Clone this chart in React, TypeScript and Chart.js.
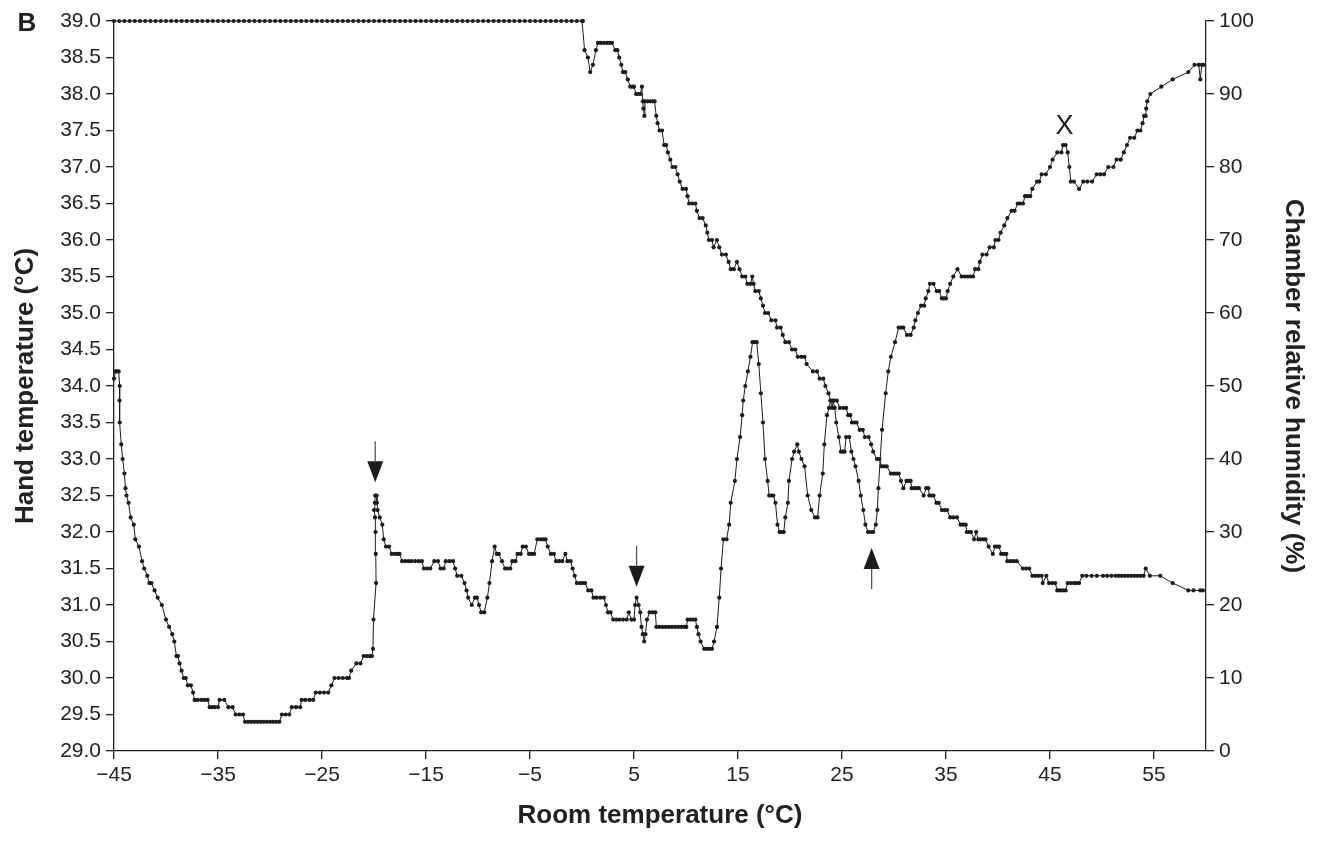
import React, { useEffect, useRef } from 'react';
import { Chart, registerables } from 'chart.js';

Chart.register(...registerables);

// ---------- data ----------
// Hand temperature (°C) vs room temperature (°C), left axis
const handTemperature: [number, number][] = [
  [-45.0, 34.1], [-44.85, 34.2], [-44.7, 34.2], [-44.55, 34.2], [-44.45, 34.0], [-44.47, 33.8],
  [-44.45, 33.5], [-44.3, 33.2], [-44.17, 33.0], [-44.0, 32.8], [-43.9, 32.6], [-43.8, 32.5],
  [-43.6, 32.4], [-43.4, 32.2], [-43.1, 32.1], [-42.95, 31.9], [-42.6, 31.8], [-42.3, 31.6],
  [-42.1, 31.5], [-41.8, 31.4], [-41.6, 31.3], [-41.4, 31.3], [-41.1, 31.2], [-40.8, 31.1],
  [-40.4, 31.0], [-40.0, 30.8], [-39.7, 30.7], [-39.4, 30.6], [-39.2, 30.5], [-39.0, 30.3],
  [-38.85, 30.3], [-38.7, 30.2], [-38.5, 30.1], [-38.3, 30.0], [-38.1, 30.0], [-37.9, 29.9],
  [-37.6, 29.9], [-37.4, 29.8], [-37.25, 29.7], [-36.95, 29.7], [-36.6, 29.7], [-36.3, 29.7],
  [-36.0, 29.7], [-35.8, 29.6], [-35.55, 29.6], [-35.3, 29.6], [-35.0, 29.6], [-34.85, 29.7],
  [-34.4, 29.7], [-34.0, 29.6], [-33.6, 29.6], [-33.3, 29.5], [-32.95, 29.5], [-32.6, 29.5],
  [-32.4, 29.4], [-32.1, 29.4], [-31.8, 29.4], [-31.5, 29.4], [-31.2, 29.4], [-30.9, 29.4],
  [-30.6, 29.4], [-30.3, 29.4], [-30.0, 29.4], [-29.7, 29.4], [-29.4, 29.4], [-29.1, 29.4],
  [-28.85, 29.5], [-28.5, 29.5], [-28.15, 29.5], [-27.9, 29.6], [-27.5, 29.6], [-27.1, 29.6],
  [-26.95, 29.7], [-26.6, 29.7], [-26.2, 29.7], [-25.85, 29.7], [-25.6, 29.8], [-25.2, 29.8],
  [-24.8, 29.8], [-24.4, 29.8], [-24.1, 29.9], [-23.8, 30.0], [-23.4, 30.0], [-23.0, 30.0],
  [-22.6, 30.0], [-22.4, 30.0], [-22.2, 30.1], [-21.7, 30.2], [-21.3, 30.2], [-21.0, 30.3],
  [-20.7, 30.3], [-20.4, 30.3], [-20.2, 30.3], [-20.1, 30.4], [-20.05, 30.8], [-19.8, 31.3],
  [-19.83, 31.7], [-19.85, 32.0], [-19.9, 32.2], [-20.0, 32.3], [-19.92, 32.4], [-19.88, 32.5],
  [-19.75, 32.5], [-19.72, 32.4], [-19.65, 32.3], [-19.45, 32.2], [-19.2, 32.1], [-19.07, 31.9],
  [-18.85, 31.8], [-18.55, 31.8], [-18.3, 31.7], [-18.0, 31.7], [-17.75, 31.7], [-17.55, 31.7],
  [-17.3, 31.6], [-17.0, 31.6], [-16.7, 31.6], [-16.4, 31.6], [-16.05, 31.6], [-15.7, 31.6],
  [-15.4, 31.6], [-15.2, 31.5], [-14.9, 31.5], [-14.6, 31.5], [-14.2, 31.6], [-13.85, 31.6],
  [-13.6, 31.5], [-13.3, 31.5], [-13.1, 31.6], [-12.75, 31.6], [-12.4, 31.6], [-12.2, 31.5],
  [-12.0, 31.4], [-11.6, 31.4], [-11.3, 31.3], [-11.1, 31.2], [-10.95, 31.1], [-10.6, 31.0],
  [-10.3, 31.1], [-10.1, 31.1], [-9.9, 31.0], [-9.7, 30.9], [-9.4, 30.9], [-9.1, 31.1],
  [-8.9, 31.3], [-8.65, 31.6], [-8.4, 31.8], [-8.2, 31.7], [-8.0, 31.7], [-7.7, 31.6],
  [-7.4, 31.5], [-7.15, 31.5], [-6.9, 31.5], [-6.7, 31.6], [-6.4, 31.6], [-6.2, 31.7],
  [-5.9, 31.7], [-5.7, 31.8], [-5.4, 31.8], [-5.1, 31.7], [-4.85, 31.7], [-4.6, 31.7],
  [-4.3, 31.9], [-4.0, 31.9], [-3.75, 31.9], [-3.5, 31.9], [-3.3, 31.8], [-3.0, 31.7],
  [-2.7, 31.7], [-2.5, 31.6], [-2.2, 31.6], [-1.9, 31.6], [-1.6, 31.7], [-1.4, 31.6],
  [-1.1, 31.6], [-0.9, 31.5], [-0.7, 31.4], [-0.5, 31.3], [-0.2, 31.3], [0.05, 31.3],
  [0.3, 31.3], [0.6, 31.2], [0.9, 31.2], [1.1, 31.1], [1.4, 31.1], [1.75, 31.1],
  [2.1, 31.1], [2.3, 31.0], [2.5, 30.9], [2.75, 30.9], [3.0, 30.8], [3.3, 30.8],
  [3.6, 30.8], [3.95, 30.8], [4.3, 30.8], [4.5, 30.9], [4.75, 30.8], [5.0, 30.8],
  [5.1, 31.0], [5.25, 31.1], [5.45, 31.0], [5.6, 30.9], [5.72, 30.7], [5.85, 30.6],
  [5.98, 30.5], [6.1, 30.6], [6.25, 30.8], [6.5, 30.9], [6.8, 30.9], [7.05, 30.9],
  [7.15, 30.7], [7.45, 30.7], [7.75, 30.7], [8.05, 30.7], [8.35, 30.7], [8.65, 30.7],
  [8.95, 30.7], [9.25, 30.7], [9.55, 30.7], [9.85, 30.7], [10.03, 30.7], [10.15, 30.8],
  [10.4, 30.8], [10.65, 30.8], [10.9, 30.8], [11.05, 30.7], [11.2, 30.6], [11.4, 30.5],
  [11.75, 30.4], [12.0, 30.4], [12.25, 30.4], [12.5, 30.4], [12.7, 30.5], [12.98, 30.7],
  [13.2, 31.1], [13.37, 31.5], [13.6, 31.9], [13.9, 31.9], [14.15, 32.1], [14.3, 32.4],
  [14.7, 32.7], [14.9, 33.0], [15.2, 33.3], [15.4, 33.6], [15.5, 33.8], [15.7, 34.0],
  [15.95, 34.2], [16.2, 34.4], [16.4, 34.6], [16.6, 34.6], [16.8, 34.6], [17.0, 34.3],
  [17.2, 33.9], [17.4, 33.5], [17.6, 33.0], [17.85, 32.7], [18.0, 32.5], [18.2, 32.5],
  [18.4, 32.5], [18.6, 32.4], [18.8, 32.1], [19.0, 32.0], [19.2, 32.0], [19.4, 32.0],
  [19.55, 32.2], [19.8, 32.4], [19.9, 32.7], [20.2, 33.0], [20.4, 33.1], [20.7, 33.2],
  [20.85, 33.1], [21.1, 33.0], [21.4, 32.9], [21.7, 32.5], [22.05, 32.3], [22.4, 32.2],
  [22.65, 32.2], [22.85, 32.5], [23.15, 32.8], [23.3, 33.2], [23.55, 33.6], [23.75, 33.7],
  [23.9, 33.8], [24.05, 33.7], [24.15, 33.8], [24.3, 33.7], [24.45, 33.5], [24.7, 33.3],
  [24.9, 33.1], [25.1, 33.1], [25.25, 33.1], [25.4, 33.3], [25.7, 33.3], [25.9, 33.1],
  [26.1, 33.0], [26.3, 32.9], [26.6, 32.7], [26.8, 32.5], [27.05, 32.3], [27.25, 32.1],
  [27.5, 32.0], [27.75, 32.0], [28.0, 32.0], [28.25, 32.1], [28.4, 32.3], [28.5, 32.6],
  [28.85, 33.4], [29.2, 33.9], [29.45, 34.2], [29.7, 34.4], [30.1, 34.6], [30.45, 34.8],
  [30.7, 34.8], [30.9, 34.8], [31.25, 34.7], [31.6, 34.7], [31.9, 34.8], [32.05, 34.9],
  [32.3, 35.0], [32.6, 35.1], [32.9, 35.1], [33.05, 35.2], [33.3, 35.3], [33.45, 35.4],
  [33.8, 35.4], [34.1, 35.3], [34.35, 35.3], [34.6, 35.2], [34.8, 35.2], [35.0, 35.2],
  [35.16, 35.3], [35.4, 35.4], [35.7, 35.5], [36.1, 35.6], [36.5, 35.5], [36.8, 35.5],
  [37.1, 35.5], [37.35, 35.5], [37.6, 35.5], [37.8, 35.6], [38.1, 35.6], [38.25, 35.7],
  [38.5, 35.8], [38.9, 35.8], [39.2, 35.9], [39.6, 35.9], [39.75, 36.0], [40.05, 36.0],
  [40.25, 36.1], [40.6, 36.2], [40.9, 36.3], [41.3, 36.4], [41.6, 36.4], [41.9, 36.5],
  [42.15, 36.5], [42.4, 36.5], [42.6, 36.6], [42.85, 36.6], [43.1, 36.6], [43.3, 36.7],
  [43.75, 36.8], [43.97, 36.8], [44.2, 36.9], [44.6, 36.9], [45.0, 37.0], [45.25, 37.1],
  [45.7, 37.2], [46.1, 37.2], [46.25, 37.3], [46.5, 37.3], [46.7, 37.2], [46.86, 37.0],
  [47.0, 36.8], [47.3, 36.8], [47.8, 36.7], [48.2, 36.8], [48.6, 36.8], [49.05, 36.8],
  [49.5, 36.9], [49.85, 36.9], [50.2, 36.9], [50.6, 37.0], [51.1, 37.0], [51.4, 37.1],
  [51.8, 37.1], [52.1, 37.2], [52.4, 37.3], [52.7, 37.4], [53.1, 37.4], [53.4, 37.5],
  [53.7, 37.5], [53.9, 37.6], [54.05, 37.7], [54.2, 37.7], [54.25, 37.8], [54.35, 37.9],
  [54.65, 38.0], [55.7, 38.1], [56.8, 38.2], [58.3, 38.3], [58.9, 38.4], [59.3, 38.4],
  [59.45, 38.2], [59.6, 38.4], [59.75, 38.4],
];

// Chamber relative humidity (%) vs room temperature (°C), right axis
const chamberHumidity: [number, number][] = [
  [-45.0, 100], [-44.5, 100], [-44.0, 100], [-43.5, 100], [-43.0, 100], [-42.5, 100], [-42.0, 100],
  [-41.5, 100], [-41.0, 100], [-40.5, 100], [-40.0, 100], [-39.5, 100], [-39.0, 100], [-38.5, 100],
  [-38.0, 100], [-37.5, 100], [-37.0, 100], [-36.5, 100], [-36.0, 100], [-35.5, 100], [-35.0, 100],
  [-34.5, 100], [-34.0, 100], [-33.5, 100], [-33.0, 100], [-32.5, 100], [-32.0, 100], [-31.5, 100],
  [-31.0, 100], [-30.5, 100], [-30.0, 100], [-29.5, 100], [-29.0, 100], [-28.5, 100], [-28.0, 100],
  [-27.5, 100], [-27.0, 100], [-26.5, 100], [-26.0, 100], [-25.5, 100], [-25.0, 100], [-24.5, 100],
  [-24.0, 100], [-23.5, 100], [-23.0, 100], [-22.5, 100], [-22.0, 100], [-21.5, 100], [-21.0, 100],
  [-20.5, 100], [-20.0, 100], [-19.5, 100], [-19.0, 100], [-18.5, 100], [-18.0, 100], [-17.5, 100],
  [-17.0, 100], [-16.5, 100], [-16.0, 100], [-15.5, 100], [-15.0, 100], [-14.5, 100], [-14.0, 100],
  [-13.5, 100], [-13.0, 100], [-12.5, 100], [-12.0, 100], [-11.5, 100], [-11.0, 100], [-10.5, 100],
  [-10.0, 100], [-9.5, 100], [-9.0, 100], [-8.5, 100], [-8.0, 100], [-7.5, 100], [-7.0, 100],
  [-6.5, 100], [-6.0, 100], [-5.5, 100], [-5.0, 100], [-4.5, 100], [-4.0, 100], [-3.5, 100],
  [-3.0, 100], [-2.5, 100], [-2.0, 100], [-1.5, 100], [-1.0, 100], [-0.5, 100], [0.0, 100],
  [0.09, 100], [0.25, 96], [0.57, 95], [0.79, 93], [1.05, 94], [1.34, 96], [1.53, 97],
  [1.8, 97], [2.1, 97], [2.4, 97], [2.65, 97], [2.88, 97], [3.2, 96], [3.4, 96],
  [3.58, 95], [3.78, 94], [3.94, 93], [4.16, 93], [4.4, 92], [4.64, 91], [4.85, 91],
  [5.0, 91], [5.2, 90], [5.4, 90], [5.6, 90], [5.76, 91], [5.85, 89], [5.9, 88],
  [6.0, 87], [6.05, 89], [6.3, 89], [6.55, 89], [6.8, 89], [6.98, 89], [7.14, 87],
  [7.27, 86], [7.46, 85], [7.7, 85], [7.9, 83], [8.1, 83], [8.26, 82], [8.49, 81],
  [8.7, 80], [8.97, 80], [9.19, 79], [9.4, 78], [9.67, 77], [10.0, 77], [10.15, 76],
  [10.3, 75], [10.6, 75], [10.9, 75], [11.05, 74], [11.3, 73], [11.6, 73], [11.9, 72],
  [12.05, 71], [12.2, 70], [12.5, 70], [12.65, 69], [12.97, 70], [13.2, 69], [13.45, 68],
  [13.84, 68], [14.1, 67], [14.3, 66], [14.6, 66], [14.9, 67], [15.15, 66], [15.4, 65],
  [15.7, 65], [15.9, 64], [16.2, 64], [16.37, 65], [16.5, 64], [16.66, 63], [17.0, 63],
  [17.2, 62], [17.4, 61], [17.6, 60], [17.9, 60], [18.2, 59], [18.6, 59], [18.75, 58],
  [19.1, 58], [19.3, 57], [19.55, 56], [19.9, 56], [20.2, 55], [20.5, 55], [20.75, 54],
  [21.1, 54], [21.4, 54], [21.6, 53], [22.2, 52], [22.6, 52], [22.85, 51], [23.2, 51],
  [23.4, 50], [23.7, 49], [23.9, 48], [24.2, 48], [24.5, 48], [24.8, 47], [25.15, 47],
  [25.4, 47], [25.6, 46], [25.8, 46], [25.96, 45], [26.2, 45], [26.4, 45], [26.7, 44],
  [27.0, 44], [27.2, 43], [27.56, 43], [27.8, 42], [28.0, 41], [28.36, 40], [28.6, 40],
  [28.8, 39], [29.05, 39], [29.3, 39], [29.7, 38], [29.95, 38], [30.2, 38], [30.45, 38],
  [30.67, 37], [30.9, 36], [31.2, 37], [31.4, 37], [31.6, 37], [31.7, 36], [31.95, 36],
  [32.2, 36], [32.4, 36], [32.85, 35], [33.1, 36], [33.3, 36], [33.4, 35], [33.6, 35],
  [33.8, 35], [34.07, 34], [34.3, 34], [34.6, 33], [34.85, 33], [35.1, 33], [35.4, 32],
  [35.7, 32], [36.06, 32], [36.4, 31], [36.65, 31], [36.9, 31], [37.0, 30], [37.2, 30],
  [37.4, 30], [37.7, 29], [37.9, 30], [38.1, 29], [38.35, 29], [38.6, 29], [38.8, 29],
  [39.1, 28], [39.5, 27], [39.7, 28], [39.9, 28], [40.1, 28], [40.3, 27], [40.55, 27],
  [40.8, 27], [40.9, 26], [41.2, 26], [41.5, 26], [41.8, 26], [42.4, 25], [42.7, 25],
  [43.0, 25], [43.3, 24], [43.6, 24], [43.9, 24], [44.2, 24], [44.3, 23], [44.65, 24],
  [44.9, 23], [45.2, 23], [45.5, 23], [45.7, 22], [45.95, 22], [46.2, 22], [46.5, 22],
  [46.7, 23], [47.0, 23], [47.3, 23], [47.55, 23], [47.8, 23], [48.1, 24], [48.5, 24],
  [49.0, 24], [49.5, 24], [50.1, 24], [50.5, 24], [50.9, 24], [51.3, 24], [51.6, 24],
  [51.9, 24], [52.2, 24], [52.5, 24], [52.8, 24], [53.1, 24], [53.4, 24], [53.7, 24],
  [54.0, 24], [54.2, 25], [54.6, 24], [55.6, 24], [56.8, 23], [58.3, 22], [58.8, 22],
  [59.45, 22], [59.7, 22],
];

const xTickValues = [-45, -35, -25, -15, -5, 5, 15, 25, 35, 45, 55];

// annotation arrows (x position, arrow-tip value on the hand temperature axis, direction)
const arrowX = [-19.88, 5.25, 27.85];
const arrowTipY = [32.68, 31.25, 31.78];
const arrowDirection = ['down', 'down', 'up'];
const peakMarkX = 46.4;
const peakMarkY = 37.55;
const peakMarkText = 'X';
const panelLabel = 'B';

const FONT = '"Liberation Sans", Arial, Helvetica, sans-serif';
const INK = '#1c1c1c';

const annotationPlugin = {
  id: 'figureAnnotations',
  afterDatasetsDraw(chart: any) {
    const { ctx, scales } = chart;
    const xs = scales.x;
    const ys = scales.y;
    ctx.save();
    arrowX.forEach((ax, i) => {
      const px = xs.getPixelForValue(ax);
      const tip = ys.getPixelForValue(arrowTipY[i]);
      const dir = arrowDirection[i] === 'down' ? 1 : -1;
      const headH = 21;
      const headW = 16;
      const shaft = 20;
      const base = tip - dir * headH;
      ctx.fillStyle = INK;
      ctx.beginPath();
      ctx.moveTo(px, tip);
      ctx.lineTo(px - headW / 2, base);
      ctx.lineTo(px + headW / 2, base);
      ctx.closePath();
      ctx.fill();
      ctx.strokeStyle = '#555';
      ctx.lineWidth = 1.3;
      ctx.beginPath();
      ctx.moveTo(px, base);
      ctx.lineTo(px, base - dir * shaft);
      ctx.stroke();
    });
    ctx.fillStyle = '#222';
    ctx.textAlign = 'center';
    ctx.textBaseline = 'middle';
    ctx.font = `27px ${FONT}`;
    ctx.fillText(peakMarkText, xs.getPixelForValue(peakMarkX), ys.getPixelForValue(peakMarkY));
    ctx.font = `bold 26px ${FONT}`;
    ctx.fillText(panelLabel, 27, 24);
    ctx.restore();
  },
};

const minusFormat = (v: number) => (v < 0 ? '\u2212' + Math.abs(v) : String(v));

export default function App() {
  const canvasRef = useRef<HTMLCanvasElement | null>(null);

  useEffect(() => {
    if (!canvasRef.current) return;
    const axisStyle = {
      grid: { display: true, drawOnChartArea: false, drawTicks: true, tickLength: 8, color: '#222', lineWidth: 1.3 },
      border: { display: true, color: '#222', width: 1.3 },
    };
    const tickFont = { family: FONT, size: 21 };
    const titleFont = { family: FONT, size: 26, weight: 'bold' };
    const chart = new Chart(canvasRef.current, {
      type: 'line',
      data: {
        datasets: [
          {
            label: 'Hand temperature (°C)',
            data: handTemperature.map(([x, y]) => ({ x, y })),
            yAxisID: 'y',
            borderColor: INK,
            borderWidth: 1,
            pointRadius: 2.1,
            pointBackgroundColor: INK,
            pointBorderWidth: 0,
            tension: 0,
            clip: false,
          },
          {
            label: 'Chamber relative humidity (%)',
            data: chamberHumidity.map(([x, y]) => ({ x, y })),
            yAxisID: 'y1',
            borderColor: INK,
            borderWidth: 1,
            pointRadius: 2.1,
            pointBackgroundColor: INK,
            pointBorderWidth: 0,
            tension: 0,
            clip: false,
          },
        ],
      },
      options: {
        animation: false,
        responsive: true,
        maintainAspectRatio: false,
        layout: { padding: { top: 21, left: 0, right: 0, bottom: 0 } },
        plugins: { legend: { display: false }, tooltip: { enabled: false } },
        scales: {
          x: {
            type: 'linear',
            min: -45,
            max: 60,
            afterBuildTicks: (s: any) => {
              s.ticks = xTickValues.map((v) => ({ value: v }));
            },
            afterFit: (s: any) => {
              s.height = 91;
            },
            ...axisStyle,
            ticks: {
              font: tickFont,
              color: '#222',
              padding: 4,
              maxRotation: 0,
              autoSkip: false,
              callback: (v: any) => minusFormat(Number(v)),
            },
            title: {
              display: true,
              text: 'Room temperature (°C)',
              color: '#222',
              font: titleFont,
              padding: { top: 0, bottom: 11 },
            },
          },
          y: {
            type: 'linear',
            position: 'left',
            min: 29,
            max: 39,
            afterFit: (s: any) => {
              s.width = 114;
            },
            ...axisStyle,
            ticks: {
              stepSize: 0.5,
              font: tickFont,
              color: '#222',
              padding: 5,
              callback: (v: any) => Number(v).toFixed(1),
            },
            title: {
              display: true,
              text: 'Hand temperature (°C)',
              color: '#222',
              font: titleFont,
              padding: { top: 10, bottom: 0 },
            },
          },
          y1: {
            type: 'linear',
            position: 'right',
            min: 0,
            max: 100,
            afterFit: (s: any) => {
              s.width = 122;
            },
            ...axisStyle,
            ticks: {
              stepSize: 10,
              font: tickFont,
              color: '#222',
              padding: 5,
            },
            title: {
              display: true,
              text: 'Chamber relative humidity (%)',
              color: '#222',
              font: titleFont,
              padding: { top: 19, bottom: 0 },
            },
          },
        },
      } as any,
      plugins: [annotationPlugin],
    });
    return () => chart.destroy();
  }, []);

  return (
    <div style={{ position: 'absolute', left: 0, top: 0, width: 1328, height: 842, background: '#fff' }}>
      <canvas ref={canvasRef} />
    </div>
  );
}
